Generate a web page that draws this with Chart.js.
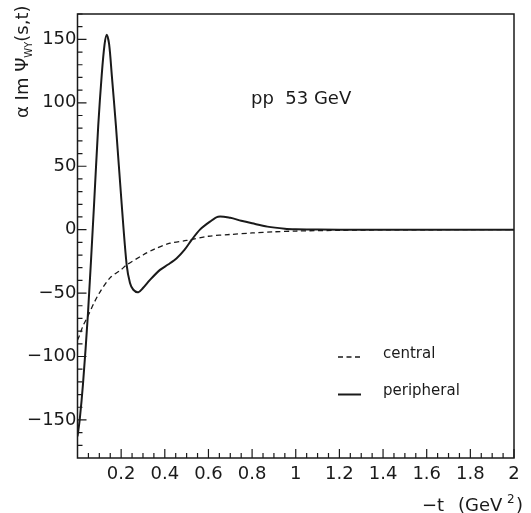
<!DOCTYPE html>
<html>
<head>
<meta charset="utf-8">
<script src="https://cdn.jsdelivr.net/npm/chart.js@4/dist/chart.umd.min.js"></script>
<style>
  html, body { margin: 0; padding: 0; background: #fff; }
</style>
</head>
<body>
<canvas id="chart" width="531" height="513"></canvas>
<script>
  // ---- data ----
  const periT = [0, 0.01, 0.025, 0.048, 0.0756, 0.095, 0.111, 0.124, 0.134, 0.145, 0.157, 0.176, 0.2025, 0.2254, 0.2405, 0.2557, 0.2786, 0.30, 0.3322, 0.378, 0.415, 0.4545, 0.49, 0.523, 0.561, 0.607, 0.644, 0.7, 0.75, 0.8, 0.87, 0.95, 1.0, 1.1, 1.3, 1.6, 2.0];
  const periY = [-163, -150, -122, -66, 19, 82, 122, 146, 153.7, 146, 122, 82, 20, -28, -42, -47.4, -49.3, -46, -39.6, -31.7, -27.5, -22.5, -16, -8.1, 0, 6.3, 10.2, 9.3, 7, 5, 2.4, 0.8, 0.4, 0.1, 0, 0, 0];

  const centT = [0, 0.01, 0.025, 0.048, 0.075, 0.1, 0.149, 0.2, 0.225, 0.3, 0.35, 0.424, 0.5, 0.6, 0.7, 0.8, 0.9, 1.0, 1.2, 1.4, 1.6, 1.8, 2.0];
  const centY = [-87, -83, -76, -68, -58, -50, -38, -31.5, -27.8, -20, -15.5, -10.7, -8.5, -5.2, -3.8, -2.6, -1.7, -1.1, -0.5, -0.2, -0.1, 0, 0];

  const xTickValues = [0.2, 0.4, 0.6, 0.8, 1, 1.2, 1.4, 1.6, 1.8, 2];
  const yTickValues = [-150, -100, -50, 0, 50, 100, 150];

  const FONT = "'DejaVu Sans', sans-serif";
  const INK = '#1a1a1a';

  const toPts = (xs, ys) => xs.map((x, i) => ({ x: x, y: ys[i] }));

  /* ticks inside the frame, top/right border, labels */
  const frameAndText = {
    id: 'frameAndText',
    afterDraw(chart) {
      const { ctx, chartArea: a, scales: { x, y } } = chart;
      ctx.save();
      ctx.strokeStyle = INK;
      ctx.lineWidth = 1.5;
      ctx.strokeRect(a.left, a.top, a.right - a.left, a.bottom - a.top);

      ctx.lineWidth = 1.2;
      ctx.beginPath();
      for (let v = -170; v <= 170; v += 10) {
        const py = y.getPixelForValue(v);
        const len = v % 50 === 0 ? 9 : 5;
        ctx.moveTo(a.left, py); ctx.lineTo(a.left + len, py);
      }
      for (let k = 1; k <= 40; k++) {
        const v = k * 0.05;
        const px = x.getPixelForValue(v);
        const len = k % 4 === 0 ? 9 : 5;
        ctx.moveTo(px, a.bottom); ctx.lineTo(px, a.bottom - len);
      }
      ctx.stroke();

      ctx.fillStyle = INK;
      ctx.textBaseline = 'alphabetic';
      ctx.textAlign = 'left';
      ctx.font = '18px ' + FONT;
      ctx.fillText('pp  53 GeV', 251, 104);

      // legend
      ctx.font = '15px ' + FONT;
      ctx.fillText('central', 383, 358);
      ctx.fillText('peripheral', 383, 395);
      ctx.lineWidth = 1.3;
      ctx.setLineDash([5, 3.5]);
      ctx.beginPath(); ctx.moveTo(338, 357); ctx.lineTo(361, 357); ctx.stroke();
      ctx.setLineDash([]);
      ctx.lineWidth = 2;
      ctx.beginPath(); ctx.moveTo(338, 394.5); ctx.lineTo(361, 394.5); ctx.stroke();

      // x title
      ctx.font = '18px ' + FONT;
      ctx.fillText('\u2212t', 422, 511);
      ctx.fillText('(GeV', 458, 511);
      ctx.font = '12px ' + FONT;
      ctx.fillText('2', 507, 503);
      ctx.font = '18px ' + FONT;
      ctx.fillText(')', 516, 511);

      // y title, rotated
      ctx.translate(28, 118);
      ctx.rotate(-Math.PI / 2);
      let cx = 0;
      const part = (s, size, dy) => {
        ctx.font = size + 'px ' + FONT;
        ctx.fillText(s, cx, dy);
        cx += ctx.measureText(s).width;
      };
      part('\u03b1 Im \u03a8', 18, 0);
      part('WY', 10, 4);
      part('(s,t)', 18, 0);
      ctx.restore();
    }
  };

  new Chart(document.getElementById('chart'), {
    type: 'line',
    data: {
      datasets: [
        {
          label: 'peripheral',
          data: toPts(periT, periY),
          borderColor: INK,
          borderWidth: 2,
          pointRadius: 0,
          tension: 0.3
        },
        {
          label: 'central',
          data: toPts(centT, centY),
          borderColor: INK,
          borderWidth: 1.3,
          borderDash: [5, 3.5],
          pointRadius: 0,
          tension: 0.3
        }
      ]
    },
    options: {
      responsive: false,
      animation: false,
      layout: { padding: { top: 14, right: 17, left: 0, bottom: 0 } },
      plugins: { legend: { display: false }, tooltip: { enabled: false } },
      scales: {
        x: {
          type: 'linear',
          min: 0,
          max: 2,
          afterBuildTicks: s => { s.ticks = xTickValues.map(v => ({ value: v })); },
          afterFit: s => { s.height = 55; },
          grid: { display: false, drawTicks: false },
          border: { display: false },
          ticks: {
            color: INK,
            font: { family: FONT, size: 18 },
            padding: 6,
            maxRotation: 0,
            autoSkip: false,
            callback: v => String(v)
          }
        },
        y: {
          min: -180,
          max: 170,
          afterBuildTicks: s => { s.ticks = yTickValues.map(v => ({ value: v })); },
          afterFit: s => { s.width = 77.5; },
          grid: { display: false, drawTicks: false },
          border: { display: false },
          ticks: {
            color: INK,
            font: { family: FONT, size: 18 },
            padding: 1,
            callback: v => String(v).replace('-', '\u2212')
          }
        }
      }
    },
    plugins: [frameAndText]
  });
</script>
</body>
</html>
